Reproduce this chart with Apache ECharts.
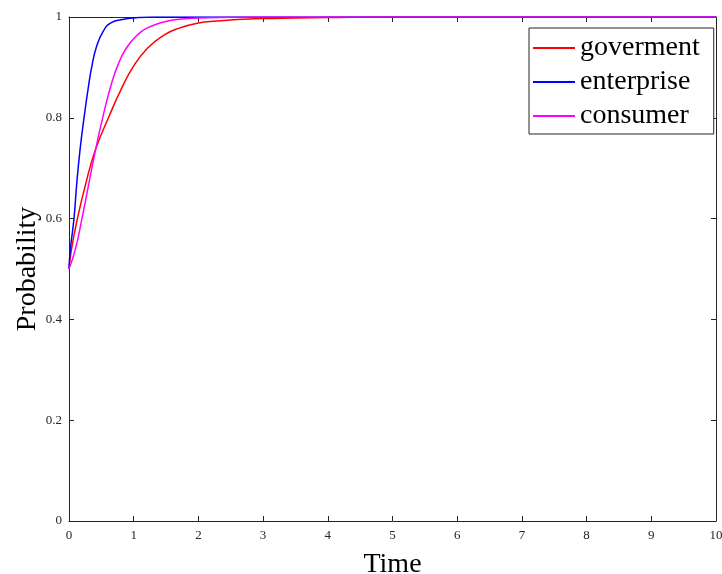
<!DOCTYPE html>
<html>
<head>
<meta charset="utf-8">
<script src="https://cdn.jsdelivr.net/npm/echarts@6/dist/echarts.min.js"></script>
<style>html,body{margin:0;padding:0;background:#fff}#c{width:722px;height:574px}</style>
</head>
<body>
<div id="c"></div>
<script>
var seriesNames = ['goverment', 'enterprise', 'consumer'];
var xTicks = [0,1,2,3,4,5,6,7,8,9,10];
var yTicks = [0,0.2,0.4,0.6,0.8,1];
var goverment = [[0,0.5],[0.037,0.538],[0.13,0.6],[0.26,0.67],[0.41,0.737],[0.62,0.803],[0.8,0.855],[1.0,0.903],[1.22,0.939],[1.48,0.965],[1.68,0.977],[2.0,0.988],[2.28,0.992],[2.6,0.995],[3,0.997],[3.5,0.998],[4,0.999],[5,1],[6,1],[7,1],[8,1],[9,1],[10,1]];
var enterprise = [[0,0.5],[0.02,0.538],[0.077,0.6],[0.12,0.67],[0.17,0.736],[0.232,0.8],[0.31,0.87],[0.35,0.9],[0.42,0.939],[0.53,0.972],[0.655,0.989],[0.83,0.995],[1.0,0.998],[1.3,1],[2,1],[3,1],[4,1],[5,1],[6,1],[7,1],[8,1],[9,1],[10,1]];
var consumer = [[0,0.5],[0.1,0.54],[0.2,0.6],[0.3,0.665],[0.4,0.73],[0.52,0.8],[0.655,0.867],[0.76,0.906],[0.89,0.939],[1.07,0.966],[1.22,0.979],[1.43,0.989],[1.66,0.995],[2,0.998],[2.5,0.9995],[3,1],[4,1],[5,1],[6,1],[7,1],[8,1],[9,1],[10,1]];
var colors = ['#ff0000', '#0000ff', '#ff00ff'];

var font = 'Liberation Serif';
var axisColor = '#262626';
var chart = echarts.init(document.getElementById('c'), null, {renderer: 'canvas'});
function mkSeries(name, data, color) {
  return {
    name: name, type: 'line', data: data, xAxisIndex: 0, yAxisIndex: 0,
    showSymbol: false, smooth: 0.5, clip: true,
    lineStyle: {color: color, width: 1.5}, itemStyle: {color: color},
    emphasis: {disabled: true}, animation: false
  };
}
function sideAxis(type, pos, min, max, interval) {
  return {
    type: 'value', min: min, max: max, interval: interval, position: pos,
    axisLine: {show: true, onZero: false, lineStyle: {color: axisColor, width: 1}},
    axisTick: {show: true, inside: true, length: 5, lineStyle: {color: axisColor}},
    axisLabel: {show: false}, splitLine: {show: false}
  };
}
var option = {
  animation: false,
  grid: {left: 69, right: 6, top: 17, bottom: 53, containLabel: false, outerBoundsMode: 'none'},
  legend: {
    orient: 'vertical', left: 529, top: 28,
    data: seriesNames,
    icon: 'rect', itemWidth: 42, itemHeight: 2,
    itemGap: 4,
    padding: [5, 14, 3, 4],
    borderColor: axisColor, borderWidth: 1, backgroundColor: '#fff',
    textStyle: {fontFamily: font, fontSize: 28, color: '#000', lineHeight: 30}
  },
  xAxis: [{
    type: 'value', min: 0, max: 10, interval: 1, position: 'bottom',
    name: 'Time', nameLocation: 'middle', nameGap: 30, nameMoveOverlap: false,
    nameTextStyle: {fontFamily: font, fontSize: 28, color: '#000'},
    axisLine: {show: true, onZero: false, lineStyle: {color: axisColor, width: 1}},
    axisTick: {show: true, inside: true, length: 5, lineStyle: {color: axisColor}},
    axisLabel: {fontFamily: font, fontSize: 13, color: axisColor, margin: 8},
    splitLine: {show: false}
  }, sideAxis('x', 'top', 0, 10, 1)],
  yAxis: [{
    type: 'value', min: 0, max: 1, interval: 0.2, position: 'left',
    name: 'Probability', nameLocation: 'middle', nameGap: 27, nameMoveOverlap: false,
    nameTextStyle: {fontFamily: font, fontSize: 28, color: '#000'},
    axisLine: {show: true, onZero: false, lineStyle: {color: axisColor, width: 1}},
    axisTick: {show: true, inside: true, length: 5, lineStyle: {color: axisColor}},
    axisLabel: {fontFamily: font, fontSize: 13, color: axisColor, margin: 7},
    splitLine: {show: false}
  }, sideAxis('y', 'right', 0, 1, 0.2)],
  series: [
    mkSeries(seriesNames[0], goverment, colors[0]),
    mkSeries(seriesNames[1], enterprise, colors[1]),
    mkSeries(seriesNames[2], consumer, colors[2])
  ]
};
chart.setOption(option);
</script>
</body>
</html>
